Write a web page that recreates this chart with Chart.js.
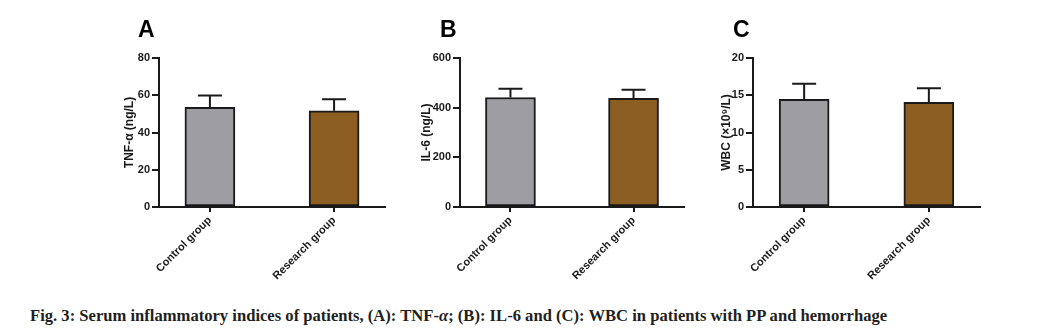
<!DOCTYPE html>
<html>
<head>
<meta charset="utf-8">
<script src="https://cdn.jsdelivr.net/npm/chart.js@4.4.1/dist/chart.umd.min.js"></script>
<style>
  body { margin: 0; background: #fff; width: 1062px; height: 336px; position: relative; overflow: hidden; }
  canvas { position: absolute; top: 0; }
  #caption {
    position: absolute; left: 30px; top: 308px;
    font: bold 16.6px "Liberation Serif", "Times New Roman", serif;
    line-height: 16px; color: #231f20; white-space: nowrap;
  }
</style>
</head>
<body>
<canvas id="chartA" width="300" height="292" style="left:100px"></canvas>
<canvas id="chartB" width="300" height="292" style="left:400px"></canvas>
<canvas id="chartC" width="300" height="292" style="left:700px"></canvas>
<div id="caption">Fig. 3: Serum inflammatory indices of patients, (A): TNF-<i>α</i>; (B): IL-6 and (C): WBC in patients with PP and hemorrhage</div>
<script>
// data (mean and SD per group)
const groups = ['Control group', 'Research group'];
const barColors = ['#9e9da2', '#8c5e21'];

const tnfMean = [53.5, 51.7];
const tnfSd = [6.3, 6.2];
const il6Mean = [441, 438];
const il6Sd = [35, 34];
const wbcMean = [14.45, 14.05];
const wbcSd = [2.1, 1.9];

const tickFont = { family: '"Liberation Sans", Arial, sans-serif', size: 11, weight: 'bold' };
const ink = '#1a1a1a';

// upward error bars with a cap
const errorBars = {
  id: 'errorBars',
  afterDatasetsDraw(chart, args, opts) {
    const { ctx } = chart;
    const yScale = chart.scales.y;
    const meta = chart.getDatasetMeta(0);
    ctx.save();
    ctx.strokeStyle = ink;
    ctx.lineWidth = 2;
    meta.data.forEach((bar, i) => {
      const top = yScale.getPixelForValue(opts.mean[i] + opts.sd[i]);
      ctx.beginPath();
      ctx.moveTo(bar.x, bar.y);
      ctx.lineTo(bar.x, top);
      ctx.moveTo(bar.x - 12, top);
      ctx.lineTo(bar.x + 12, top);
      ctx.stroke();
    });
    ctx.restore();
  }
};

// big panel letter
const panelLetter = {
  id: 'panelLetter',
  afterDraw(chart, args, opts) {
    const ctx = chart.ctx;
    ctx.save();
    ctx.font = 'bold 23px "Liberation Sans", Arial, sans-serif';
    ctx.fillStyle = '#000';
    ctx.textBaseline = 'alphabetic';
    ctx.fillText(opts.text, opts.x, 37);
    ctx.restore();
  }
};

function makePanel(id, p) {
  return new Chart(document.getElementById(id), {
    type: 'bar',
    data: {
      datasets: [{
        data: p.mean.map((v, i) => ({ x: i, y: v })),
        backgroundColor: barColors,
        borderColor: ink,
        borderWidth: 2,
        borderSkipped: false,
        barThickness: 50
      }]
    },
    options: {
      responsive: false,
      animation: false,
      devicePixelRatio: 1,
      layout: { padding: { left: p.padLeft, top: 58, right: p.padRight, bottom: 0 } },
      plugins: {
        legend: { display: false },
        tooltip: { enabled: false },
        errorBars: { mean: p.mean, sd: p.sd },
        panelLetter: { text: p.letter, x: p.letterX }
      },
      scales: {
        x: {
          type: 'linear',
          offset: false,
          bounds: 'data',
          min: -0.41,
          max: 1.41,
          afterBuildTicks: (s) => { s.ticks = groups.map((g, i) => ({ value: i })); },
          afterFit: (s) => { s.height = 85; },
          ticks: {
            autoSkip: false,
            minRotation: 45,
            maxRotation: 45,
            padding: 2,
            color: ink,
            font: tickFont,
            callback: (v) => groups[v]
          },
          grid: { offset: false, drawOnChartArea: false, drawTicks: true, tickLength: 5, color: ink, lineWidth: 2 },
          border: { color: ink, width: 2 }
        },
        y: {
          min: 0,
          max: p.max,
          afterFit: (s) => { s.width = p.axisW; },
          ticks: { stepSize: p.step, padding: 2, color: ink, font: tickFont },
          grid: { drawOnChartArea: false, drawTicks: true, tickLength: 7, color: ink, lineWidth: 2 },
          border: { color: ink, width: 2 },
          title: {
            display: true,
            text: p.title,
            color: ink,
            padding: 0,
            font: { family: '"Liberation Sans", Arial, sans-serif', size: 12, weight: 'bold', lineHeight: 1.2 }
          }
        }
      }
    },
    plugins: [errorBars, panelLetter]
  });
}

makePanel('chartA', { mean: tnfMean, sd: tnfSd, max: 80, step: 20, title: 'TNF-α (ng/L)',
  letter: 'A', letterX: 38, padLeft: 22, axisW: 37, padRight: 15 });
makePanel('chartB', { mean: il6Mean, sd: il6Sd, max: 600, step: 200, title: 'IL-6 (ng/L)',
  letter: 'B', letterX: 40, padLeft: 19, axisW: 41, padRight: 16 });
makePanel('chartC', { mean: wbcMean, sd: wbcSd, max: 20, step: 5, title: 'WBC (×10⁹/L)',
  letter: 'C', letterX: 33, padLeft: 19, axisW: 34, padRight: 20 });
</script>
</body>
</html>
